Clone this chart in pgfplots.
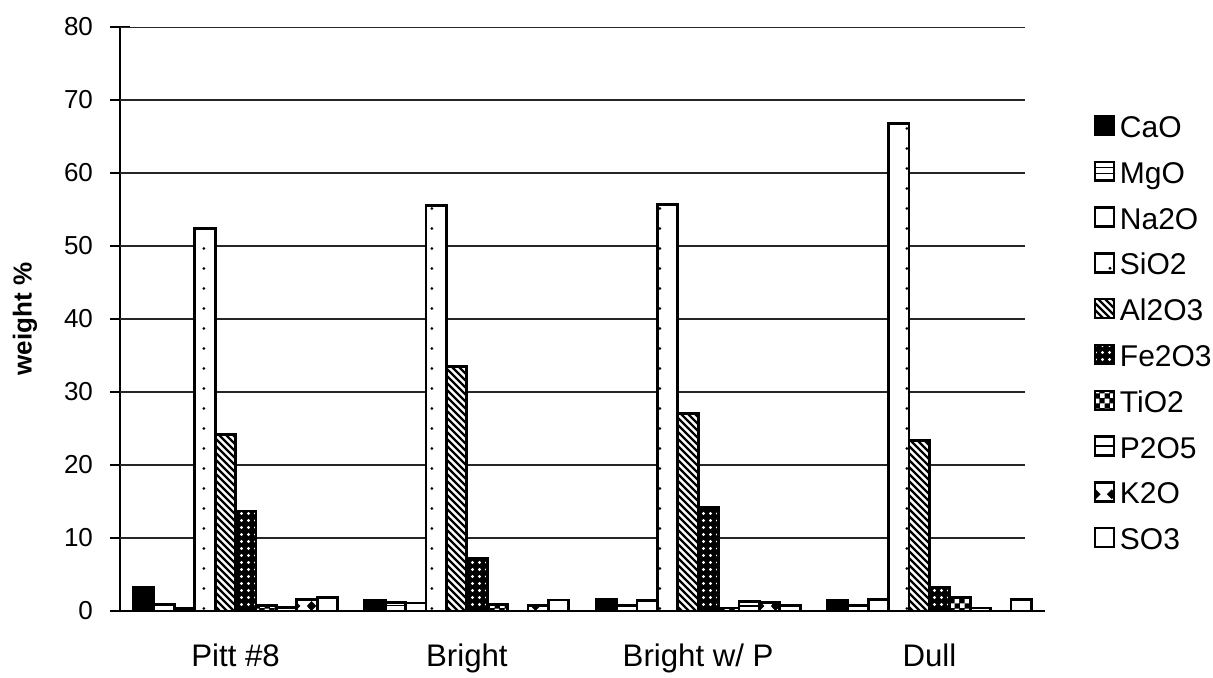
\documentclass[border=0pt]{standalone}
\usepackage{fontspec}
\setmainfont{Liberation Sans}
\usepackage{pgfplots}
\pgfplotsset{compat=1.18}
\usetikzlibrary{patterns}

% fill patterns for the oxide series
\pgfdeclarepatternformonly{sparse dots}{\pgfqpoint{0pt}{0pt}}{\pgfqpoint{9.6354pt}{10pt}}{\pgfqpoint{9.6354pt}{10pt}}{%
  \pgfpathcircle{\pgfqpoint{6.16pt}{5pt}}{0.8pt}\pgfusepath{fill}}
\pgfdeclarepatternformonly{dot grid}{\pgfqpoint{-1pt}{-1pt}}{\pgfqpoint{4.5pt}{4.5pt}}{\pgfqpoint{3.5pt}{3.5pt}}{%
  \pgfpathcircle{\pgfqpoint{1.75pt}{1.75pt}}{0.8pt}\pgfusepath{fill}}
\pgfdeclarepatternformonly{thick nw lines}{\pgfqpoint{-1pt}{-1pt}}{\pgfqpoint{4.5pt}{4.5pt}}{\pgfqpoint{3.5pt}{3.5pt}}{%
  \pgfsetlinewidth{1.1pt}\pgfpathmoveto{\pgfqpoint{-0.1pt}{3.6pt}}\pgfpathlineto{\pgfqpoint{3.6pt}{-0.1pt}}\pgfusepath{stroke}}
\pgfdeclarepatternformonly{checks}{\pgfqpoint{0pt}{0pt}}{\pgfqpoint{5pt}{5pt}}{\pgfqpoint{5pt}{5pt}}{%
  \pgfpathrectangle{\pgfqpoint{0pt}{0pt}}{\pgfqpoint{2.5pt}{2.5pt}}%
  \pgfpathrectangle{\pgfqpoint{2.5pt}{2.5pt}}{\pgfqpoint{2.5pt}{2.5pt}}\pgfusepath{fill}}
\pgfdeclarepatternformonly{wide hlines}{\pgfqpoint{0pt}{-1pt}}{\pgfqpoint{10pt}{9pt}}{\pgfqpoint{10pt}{8pt}}{%
  \pgfsetlinewidth{0.8pt}\pgfpathmoveto{\pgfqpoint{-0.1pt}{4pt}}\pgfpathlineto{\pgfqpoint{10.1pt}{4pt}}\pgfusepath{stroke}}
\pgfdeclarepatternformonly{diamonds}{\pgfqpoint{0pt}{0pt}}{\pgfqpoint{8pt}{8pt}}{\pgfqpoint{8pt}{8pt}}{%
  \pgfpathmoveto{\pgfqpoint{4pt}{1.5pt}}\pgfpathlineto{\pgfqpoint{6.5pt}{4pt}}%
  \pgfpathlineto{\pgfqpoint{4pt}{6.5pt}}\pgfpathlineto{\pgfqpoint{1.5pt}{4pt}}\pgfpathclose\pgfusepath{fill}}

\begin{document}
\begin{tikzpicture}
\useasboundingbox (-60pt,-33.5pt) rectangle (546.5pt,305.5pt);
\begin{axis}[
  scale only axis, width=462.5pt, height=292pt,
  ybar=0pt, bar width=10.2pt,
  xmin=-0.5, xmax=3.5, ymin=0, ymax=80,
  ytick={0,10,...,80},
  yticklabel={\fontsize{13}{15}\selectfont\pgfmathprintnumber{\tick}},
  xtick={0,1,2,3},
  xticklabels={Pitt \#8, Bright, Bright w/ P, Dull},
  x tick style={draw=none},
  extra x ticks={-0.5,0.5,1.5,2.5,3.5},
  extra x tick labels={},
  extra x tick style={tick style={draw=black, line width=0.75pt}, major tick length=10pt, tick align=center},
  axis x line*=bottom, axis y line*=left,
  axis line style={line width=0.75pt},
  y tick style={line width=0.75pt, black},
  tick align=center, major tick length=10pt,
  /pgf/number format/assume math mode=true,
  yticklabel style={xshift=-5pt},
  xticklabel style={font=\fontsize{15.6}{18}\selectfont, yshift=-8pt},
  ylabel={weight \%},
  every axis y label/.style={at={(axis description cs:-0.1027,0.5)}, rotate=90, anchor=center,
    font=\fontsize{13}{15}\selectfont\bfseries},
  legend style={at={(axis description cs:1.052,0.851)}, anchor=north west, draw=none, fill=none,
    font=\fontsize{15}{18}\selectfont, row sep=8.4pt, inner sep=0pt,
    nodes={inner xsep=2.5pt, inner ysep=0pt, text height=11.5pt, text depth=3pt}},
  legend cell align=left,
  legend image code/.code={\draw[#1, line width=1.2pt] (0pt,-3pt) rectangle (9.5pt,6.5pt);},
  every axis plot/.append style={draw=black, line width=1.4pt},
]
% horizontal grid lines, stopping short of the right end of the category axis
\pgfplotsinvokeforeach{10,20,...,80}{
  \draw[black!85, line width=0.6pt] (axis cs:-0.5,#1) -- (axis cs:3.414,#1);
}
% CaO
\addplot[fill=black] coordinates {(0,3.3) (1,1.5) (2,1.6) (3,1.4)};
% MgO
\addplot[fill=white, postaction={pattern=horizontal lines}] coordinates {(0,0.9) (1,1.2) (2,0.8) (3,0.8)};
% Na2O
\addplot[fill=white] coordinates {(0,0.3) (1,1.1) (2,1.4) (3,1.6)};
% SiO2
\addplot[fill=white, postaction={pattern=sparse dots}] coordinates {(0,52.4) (1,55.6) (2,55.7) (3,66.8)};
% Al2O3
\addplot[fill=white, postaction={pattern=thick nw lines}] coordinates {(0,24.2) (1,33.5) (2,27.1) (3,23.4)};
% Fe2O3
\addplot[fill=black, postaction={pattern=dot grid, pattern color=white}] coordinates {(0,13.7) (1,7.2) (2,14.2) (3,3.3)};
% TiO2
\addplot[fill=black, postaction={pattern=checks, pattern color=white}] coordinates {(0,0.8) (1,0.9) (2,0.4) (3,1.9)};
% P2O5
\addplot[fill=white, postaction={pattern=wide hlines}] coordinates {(0,0.5) (1,0) (2,1.3) (3,0.4)};
% K2O
\addplot[fill=white, postaction={pattern=diamonds}] coordinates {(0,1.6) (1,0.8) (2,1.2) (3,0)};
% SO3
\addplot[fill=white] coordinates {(0,1.9) (1,1.5) (2,0.8) (3,1.6)};
\legend{CaO, MgO, Na2O, SiO2, Al2O3, Fe2O3, TiO2, P2O5, K2O, SO3}
\end{axis}
\end{tikzpicture}
\end{document}
